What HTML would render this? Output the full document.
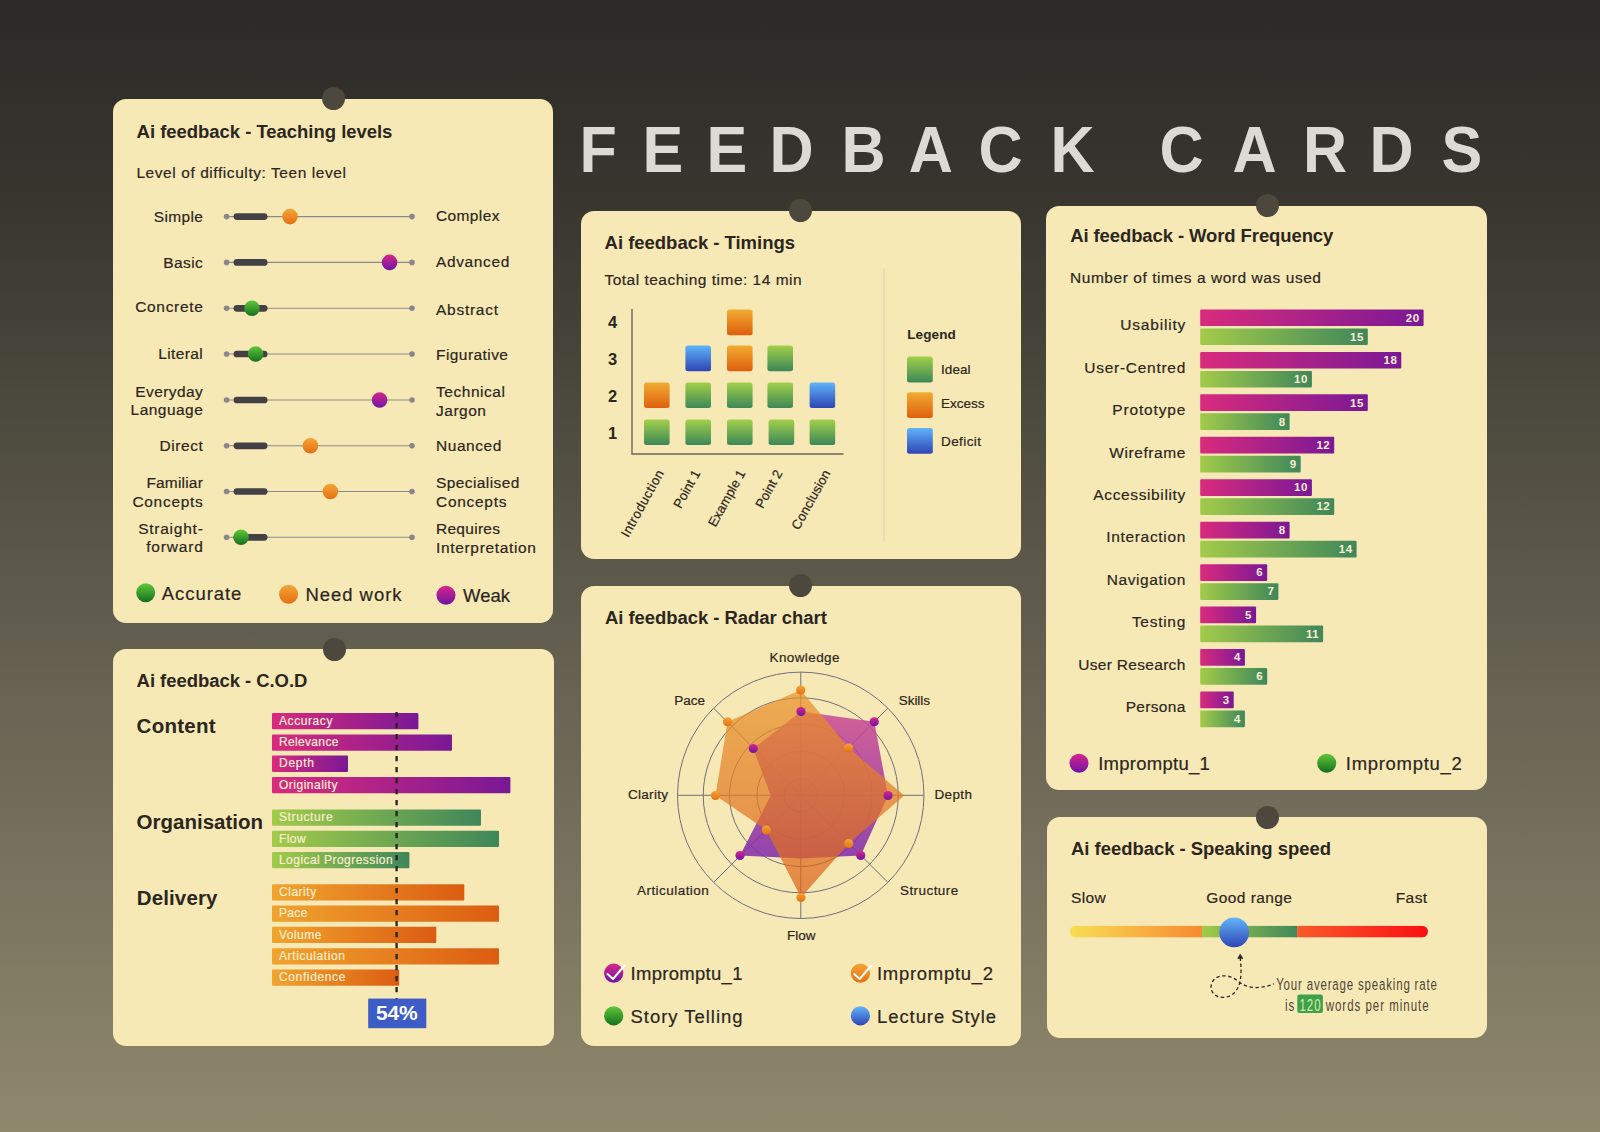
<!DOCTYPE html>
<html lang="en"><head><meta charset="utf-8"><title>Feedback Cards</title>
<style>
html,body{margin:0;padding:0}
body{width:1600px;height:1132px;overflow:hidden;position:relative;font-family:"Liberation Sans", sans-serif;
background:linear-gradient(180deg,#2b2a27 0%,#38362f 18%,#5c584a 50%,#7f7963 84%,#90886d 100%);}
.card{position:absolute;background:#f7e9b6;border-radius:13px;margin:0}
.card svg{position:absolute;left:0;top:0;overflow:visible;font-family:"Liberation Sans", sans-serif;fill:#2b2620}
.card svg text{stroke:#2b2620;stroke-width:.2px}.card svg text[font-weight]{stroke-width:0}
.pin{position:absolute;width:23px;height:23px;border-radius:50%;background:#4d483d}
h1{position:absolute;margin:0;left:0;top:0;width:1600px;height:200px;font-size:65px;font-family:"Liberation Sans", sans-serif}h1 svg{display:block}
</style></head><body>

<svg width="0" height="0" style="position:absolute">
<defs>
<linearGradient id="gG" x1="0" y1="0" x2="0" y2="1"><stop offset="0" stop-color="#5fc83a"/><stop offset="1" stop-color="#15701f"/></linearGradient>
<linearGradient id="gO" x1="0" y1="0" x2="0" y2="1"><stop offset="0" stop-color="#f2a636"/><stop offset="1" stop-color="#e66f12"/></linearGradient>
<linearGradient id="gP" x1="0" y1="0" x2="0" y2="1"><stop offset="0" stop-color="#d8268a"/><stop offset="1" stop-color="#6f14a6"/></linearGradient>
<linearGradient id="gB" x1="0" y1="0" x2="0" y2="1"><stop offset="0" stop-color="#62b6fb"/><stop offset="1" stop-color="#2f44b4"/></linearGradient>
<linearGradient id="sG" x1="0" y1="0" x2="0" y2="1"><stop offset="0" stop-color="#a2d04a"/><stop offset="1" stop-color="#3c8758"/></linearGradient>
<linearGradient id="sO" x1="0" y1="0" x2="0" y2="1"><stop offset="0" stop-color="#f0ac32"/><stop offset="1" stop-color="#df5f0e"/></linearGradient>
<linearGradient id="sB" x1="0" y1="0" x2="0" y2="1"><stop offset="0" stop-color="#5fb4fb"/><stop offset="1" stop-color="#2f44b4"/></linearGradient>
<linearGradient id="hP"><stop offset="0" stop-color="#d92b7d"/><stop offset="1" stop-color="#7a1896"/></linearGradient>
<linearGradient id="hG"><stop offset="0" stop-color="#a3cb4a"/><stop offset="1" stop-color="#3f875b"/></linearGradient>
<linearGradient id="hO"><stop offset="0" stop-color="#f0a42e"/><stop offset="1" stop-color="#dc5c12"/></linearGradient>
<linearGradient id="hY"><stop offset="0" stop-color="#f8de54"/><stop offset="1" stop-color="#f88a30"/></linearGradient>
<linearGradient id="hR"><stop offset="0" stop-color="#f95a2a"/><stop offset="1" stop-color="#f90f12"/></linearGradient>
</defs></svg>
<h1><svg width="1600" height="200" viewBox="0 0 1600 200"><text transform="scale(0.94 1)" x="616.5 683.5 751.6 818.6 895.2 966.7 1041.0 1117.6 1191.5 1233.5 1311.2 1386.2 1456.9 1533.4" y="172" font-size="65" font-weight="700" fill="#dbdad5">FEEDBACK CARDS</text></svg></h1>
<section class="card" style="left:113px;top:99px;width:440px;height:523.6px"><i class="pin" style="left:208.5px;top:-12.0px"></i><svg width="440" height="523.6" viewBox="113 99 440 523.6"><text x="136.6" y="137.6" font-size="18.5" font-weight="700" textLength="255.8" lengthAdjust="spacing">Ai feedback - Teaching levels</text><text x="136.4" y="177.6" font-size="15.5" textLength="209.6" lengthAdjust="spacing">Level of difficulty: Teen level</text><line x1="226.6" y1="216.6" x2="412" y2="216.6" stroke="#8b8a8a" stroke-width="1.1"/><circle cx="226.6" cy="216.6" r="2.8" fill="#8b868b"/><circle cx="412" cy="216.6" r="2.8" fill="#8b868b"/><line x1="236.9" y1="216.6" x2="264.2" y2="216.6" stroke="#434146" stroke-width="6.7" stroke-linecap="round"/><circle cx="290" cy="216.6" r="7.8" fill="url(#gO)"/><text x="202.8" y="222.2" font-size="15.5" text-anchor="end" textLength="49.0" lengthAdjust="spacing">Simple</text><text x="436.0" y="221.0" font-size="15.5" textLength="63.4" lengthAdjust="spacing">Complex</text><line x1="226.6" y1="262.4" x2="412" y2="262.4" stroke="#8b8a8a" stroke-width="1.1"/><circle cx="226.6" cy="262.4" r="2.8" fill="#8b868b"/><circle cx="412" cy="262.4" r="2.8" fill="#8b868b"/><line x1="236.9" y1="262.4" x2="264.2" y2="262.4" stroke="#434146" stroke-width="6.7" stroke-linecap="round"/><circle cx="389.6" cy="262.4" r="7.8" fill="url(#gP)"/><text x="202.8" y="268.0" font-size="15.5" text-anchor="end" textLength="39.6" lengthAdjust="spacing">Basic</text><text x="436.0" y="267.0" font-size="15.5" textLength="73.4" lengthAdjust="spacing">Advanced</text><line x1="226.6" y1="308.3" x2="412" y2="308.3" stroke="#8b8a8a" stroke-width="1.1"/><circle cx="226.6" cy="308.3" r="2.8" fill="#8b868b"/><circle cx="412" cy="308.3" r="2.8" fill="#8b868b"/><line x1="236.9" y1="308.3" x2="264.2" y2="308.3" stroke="#434146" stroke-width="6.7" stroke-linecap="round"/><circle cx="252" cy="308.3" r="7.8" fill="url(#gG)"/><text x="202.8" y="311.6" font-size="15.5" text-anchor="end" textLength="67.6" lengthAdjust="spacing">Concrete</text><text x="436.0" y="315.0" font-size="15.5" textLength="62.0" lengthAdjust="spacing">Abstract</text><line x1="226.6" y1="354.0" x2="412" y2="354.0" stroke="#8b8a8a" stroke-width="1.1"/><circle cx="226.6" cy="354.0" r="2.8" fill="#8b868b"/><circle cx="412" cy="354.0" r="2.8" fill="#8b868b"/><line x1="236.9" y1="354.0" x2="264.2" y2="354.0" stroke="#434146" stroke-width="6.7" stroke-linecap="round"/><circle cx="255.6" cy="354.0" r="7.8" fill="url(#gG)"/><text x="202.8" y="359.4" font-size="15.5" text-anchor="end" textLength="44.6" lengthAdjust="spacing">Literal</text><text x="436.0" y="360.0" font-size="15.5" textLength="72.0" lengthAdjust="spacing">Figurative</text><line x1="226.6" y1="400.0" x2="412" y2="400.0" stroke="#8b8a8a" stroke-width="1.1"/><circle cx="226.6" cy="400.0" r="2.8" fill="#8b868b"/><circle cx="412" cy="400.0" r="2.8" fill="#8b868b"/><line x1="236.9" y1="400.0" x2="264.2" y2="400.0" stroke="#434146" stroke-width="6.7" stroke-linecap="round"/><circle cx="379.6" cy="400.0" r="7.8" fill="url(#gP)"/><text x="202.8" y="396.6" font-size="15.5" text-anchor="end" textLength="67.6" lengthAdjust="spacing">Everyday</text><text x="202.8" y="415.2" font-size="15.5" text-anchor="end" textLength="72.2" lengthAdjust="spacing">Language</text><text x="436.0" y="397.0" font-size="15.5" textLength="69.0" lengthAdjust="spacing">Technical</text><text x="436.0" y="415.8" font-size="15.5" textLength="50.0" lengthAdjust="spacing">Jargon</text><line x1="226.6" y1="445.8" x2="412" y2="445.8" stroke="#8b8a8a" stroke-width="1.1"/><circle cx="226.6" cy="445.8" r="2.8" fill="#8b868b"/><circle cx="412" cy="445.8" r="2.8" fill="#8b868b"/><line x1="236.9" y1="445.8" x2="264.2" y2="445.8" stroke="#434146" stroke-width="6.7" stroke-linecap="round"/><circle cx="310.4" cy="445.8" r="7.8" fill="url(#gO)"/><text x="202.8" y="451.2" font-size="15.5" text-anchor="end" textLength="43.4" lengthAdjust="spacing">Direct</text><text x="436.0" y="451.4" font-size="15.5" textLength="65.4" lengthAdjust="spacing">Nuanced</text><line x1="226.6" y1="491.5" x2="412" y2="491.5" stroke="#8b8a8a" stroke-width="1.1"/><circle cx="226.6" cy="491.5" r="2.8" fill="#8b868b"/><circle cx="412" cy="491.5" r="2.8" fill="#8b868b"/><line x1="236.9" y1="491.5" x2="264.2" y2="491.5" stroke="#434146" stroke-width="6.7" stroke-linecap="round"/><circle cx="330.4" cy="491.5" r="7.8" fill="url(#gO)"/><text x="202.8" y="488.2" font-size="15.5" text-anchor="end" textLength="56.4" lengthAdjust="spacing">Familiar</text><text x="202.8" y="506.8" font-size="15.5" text-anchor="end" textLength="70.4" lengthAdjust="spacing">Concepts</text><text x="436.0" y="488.4" font-size="15.5" textLength="83.4" lengthAdjust="spacing">Specialised</text><text x="436.0" y="507.2" font-size="15.5" textLength="70.4" lengthAdjust="spacing">Concepts</text><line x1="226.6" y1="537.3" x2="412" y2="537.3" stroke="#8b8a8a" stroke-width="1.1"/><circle cx="226.6" cy="537.3" r="2.8" fill="#8b868b"/><circle cx="412" cy="537.3" r="2.8" fill="#8b868b"/><line x1="236.9" y1="537.3" x2="264.2" y2="537.3" stroke="#434146" stroke-width="6.7" stroke-linecap="round"/><circle cx="241" cy="537.3" r="7.8" fill="url(#gG)"/><text x="202.8" y="533.8" font-size="15.5" text-anchor="end" textLength="64.6" lengthAdjust="spacing">Straight-</text><text x="202.8" y="552.4" font-size="15.5" text-anchor="end" textLength="56.6" lengthAdjust="spacing">forward</text><text x="436.0" y="534.0" font-size="15.5" textLength="64.0" lengthAdjust="spacing">Requires</text><text x="436.0" y="552.8" font-size="15.5" textLength="100.0" lengthAdjust="spacing">Interpretation</text><circle cx="145.7" cy="592.8" r="9.5" fill="url(#gG)"/><text x="161.8" y="599.8" font-size="18.5" textLength="79.5" lengthAdjust="spacing">Accurate</text><circle cx="288.6" cy="594.2" r="9.5" fill="url(#gO)"/><text x="305.4" y="600.8" font-size="18.5" textLength="96.2" lengthAdjust="spacing">Need work</text><circle cx="446" cy="595.2" r="9.5" fill="url(#gP)"/><text x="463.0" y="602.0" font-size="18.5" textLength="47.0" lengthAdjust="spacing">Weak</text></svg></section>
<section class="card" style="left:113px;top:649px;width:441px;height:396.6px"><i class="pin" style="left:209.5px;top:-11.5px"></i><svg width="441" height="396.6" viewBox="113 649 441 396.6"><text x="136.6" y="687.0" font-size="18.5" font-weight="700" textLength="170.8" lengthAdjust="spacing">Ai feedback - C.O.D</text><text x="136.6" y="733.0" font-size="20.5" font-weight="700" textLength="79.0" lengthAdjust="spacing">Content</text><text x="136.6" y="829.0" font-size="20.5" font-weight="700" textLength="126.4" lengthAdjust="spacing">Organisation</text><text x="136.7" y="904.6" font-size="20.5" font-weight="700" textLength="80.8" lengthAdjust="spacing">Delivery</text><rect x="272" y="713" width="146.4" height="16.3" rx="1" fill="url(#hP)"/><text x="279.0" y="724.9" font-size="12" fill="#fbeed0" style="stroke:#fbeed0" textLength="53.4" lengthAdjust="spacing">Accuracy</text><rect x="272" y="734.4" width="180.0" height="16.3" rx="1" fill="url(#hP)"/><text x="279.0" y="746.3" font-size="12" fill="#fbeed0" style="stroke:#fbeed0" textLength="59.4" lengthAdjust="spacing">Relevance</text><rect x="272" y="755.6" width="76.0" height="16.3" rx="1" fill="url(#hP)"/><text x="279.0" y="767.5" font-size="12" fill="#fbeed0" style="stroke:#fbeed0" textLength="35.0" lengthAdjust="spacing">Depth</text><rect x="272" y="776.9" width="238.4" height="16.3" rx="1" fill="url(#hP)"/><text x="279.0" y="788.8" font-size="12" fill="#fbeed0" style="stroke:#fbeed0" textLength="58.4" lengthAdjust="spacing">Originality</text><rect x="272" y="809.5" width="209.0" height="16.3" rx="1" fill="url(#hG)"/><text x="279.0" y="821.4" font-size="12" fill="#fbeed0" style="stroke:#fbeed0" textLength="53.6" lengthAdjust="spacing">Structure</text><rect x="272" y="830.7" width="227.0" height="16.3" rx="1" fill="url(#hG)"/><text x="279.0" y="842.6" font-size="12" fill="#fbeed0" style="stroke:#fbeed0" textLength="26.6" lengthAdjust="spacing">Flow</text><rect x="272" y="852" width="137.4" height="16.3" rx="1" fill="url(#hG)"/><text x="279.0" y="863.9" font-size="12" fill="#fbeed0" style="stroke:#fbeed0" textLength="113.6" lengthAdjust="spacing">Logical Progression</text><rect x="272" y="884.3" width="192.3" height="16.3" rx="1" fill="url(#hO)"/><text x="279.0" y="896.2" font-size="12" fill="#fbeed0" style="stroke:#fbeed0" textLength="37.2" lengthAdjust="spacing">Clarity</text><rect x="272" y="905.5" width="227.0" height="16.3" rx="1" fill="url(#hO)"/><text x="279.0" y="917.4" font-size="12" fill="#fbeed0" style="stroke:#fbeed0" textLength="28.4" lengthAdjust="spacing">Pace</text><rect x="272" y="926.8" width="164.3" height="16.3" rx="1" fill="url(#hO)"/><text x="279.0" y="938.7" font-size="12" fill="#fbeed0" style="stroke:#fbeed0" textLength="42.4" lengthAdjust="spacing">Volume</text><rect x="272" y="948.2" width="227.0" height="16.3" rx="1" fill="url(#hO)"/><text x="279.0" y="960.1" font-size="12" fill="#fbeed0" style="stroke:#fbeed0" textLength="66.0" lengthAdjust="spacing">Articulation</text><rect x="272" y="969.4" width="127.2" height="16.3" rx="1" fill="url(#hO)"/><text x="279.0" y="981.3" font-size="12" fill="#fbeed0" style="stroke:#fbeed0" textLength="66.4" lengthAdjust="spacing">Confidence</text><line x1="396.6" y1="712" x2="396.6" y2="999" stroke="#26221e" stroke-width="2.3" stroke-dasharray="5.2 5.8"/><rect x="368.2" y="998.6" width="58.1" height="29.6" fill="#3d5cc5"/><text x="376.0" y="1019.9" font-size="21" font-weight="700" fill="#fff" textLength="41.6" lengthAdjust="spacing">54%</text></svg></section>
<section class="card" style="left:581px;top:211px;width:440px;height:348px"><i class="pin" style="left:208.1px;top:-12.0px"></i><svg width="440" height="348" viewBox="581 211 440 348"><text x="604.6" y="249.0" font-size="18.5" font-weight="700" textLength="190.4" lengthAdjust="spacing">Ai feedback - Timings</text><text x="604.4" y="285.0" font-size="15.5" textLength="197.2" lengthAdjust="spacing">Total teaching time: 14 min</text><path d="M632 309V454H843.6" fill="none" stroke="#6a665e" stroke-width="1.4"/><text x="612.6" y="328.4" font-size="16.5" font-weight="700" text-anchor="middle">4</text><text x="612.6" y="365.0" font-size="16.5" font-weight="700" text-anchor="middle">3</text><text x="612.6" y="402.0" font-size="16.5" font-weight="700" text-anchor="middle">2</text><text x="612.6" y="439.4" font-size="16.5" font-weight="700" text-anchor="middle">1</text><rect x="644" y="419.4" width="25.6" height="25.6" rx="2.5" fill="url(#sG)"/><rect x="685.4" y="419.4" width="25.6" height="25.6" rx="2.5" fill="url(#sG)"/><rect x="727" y="419.4" width="25.6" height="25.6" rx="2.5" fill="url(#sG)"/><rect x="768.6" y="419.4" width="25.6" height="25.6" rx="2.5" fill="url(#sG)"/><rect x="809.6" y="419.4" width="25.6" height="25.6" rx="2.5" fill="url(#sG)"/><rect x="644" y="382.5" width="25.6" height="25.6" rx="2.5" fill="url(#sO)"/><rect x="685.4" y="382.5" width="25.6" height="25.6" rx="2.5" fill="url(#sG)"/><rect x="727" y="382.5" width="25.6" height="25.6" rx="2.5" fill="url(#sG)"/><rect x="767.4" y="382.5" width="25.6" height="25.6" rx="2.5" fill="url(#sG)"/><rect x="809.6" y="382.5" width="25.6" height="25.6" rx="2.5" fill="url(#sB)"/><rect x="685.4" y="345.6" width="25.6" height="25.6" rx="2.5" fill="url(#sB)"/><rect x="727" y="345.6" width="25.6" height="25.6" rx="2.5" fill="url(#sO)"/><rect x="767.4" y="345.6" width="25.6" height="25.6" rx="2.5" fill="url(#sG)"/><rect x="727" y="309.6" width="25.6" height="25.6" rx="2.5" fill="url(#sO)"/><text transform="translate(664.3 473) rotate(-61)" font-size="13.2" text-anchor="end" textLength="74.5" lengthAdjust="spacing">Introduction</text><text transform="translate(700.8 473) rotate(-61)" font-size="13.2" text-anchor="end" textLength="41.5" lengthAdjust="spacing">Point 1</text><text transform="translate(745.8 473) rotate(-61)" font-size="13.2" text-anchor="end" textLength="62.5" lengthAdjust="spacing">Example 1</text><text transform="translate(782.8 473) rotate(-61)" font-size="13.2" text-anchor="end" textLength="41.5" lengthAdjust="spacing">Point 2</text><text transform="translate(830.8 473) rotate(-61)" font-size="13.2" text-anchor="end" textLength="66" lengthAdjust="spacing">Conclusion</text><line x1="884" y1="268.4" x2="884" y2="541.2" stroke="#dcd5b1" stroke-width="1.2"/><text x="907.3" y="339.0" font-size="13.5" font-weight="700" textLength="48.4" lengthAdjust="spacing">Legend</text><rect x="907" y="356.6" width="25.8" height="25.8" rx="2.5" fill="url(#sG)"/><text x="941.0" y="373.8" font-size="13.5" textLength="29.6" lengthAdjust="spacing">Ideal</text><rect x="907" y="392.3" width="25.8" height="25.8" rx="2.5" fill="url(#sO)"/><text x="941.0" y="408.3" font-size="13.5" textLength="43.5" lengthAdjust="spacing">Excess</text><rect x="907" y="427.9" width="25.8" height="25.8" rx="2.5" fill="url(#sB)"/><text x="941.0" y="445.6" font-size="13.5" textLength="40.0" lengthAdjust="spacing">Deficit</text></svg></section>
<section class="card" style="left:581px;top:585.5px;width:439.6px;height:460.3px"><i class="pin" style="left:208.2px;top:-11.5px"></i><svg width="439.6" height="460.3" viewBox="581 585.5 439.6 460.3"><text x="605.0" y="623.8" font-size="18.5" font-weight="700" textLength="221.8" lengthAdjust="spacing">Ai feedback - Radar chart</text><circle cx="800.75" cy="794.8" r="16.5" fill="none" stroke="#6f6e7c" stroke-width="1"/><circle cx="800.75" cy="794.8" r="43.8" fill="none" stroke="#6f6e7c" stroke-width="1"/><circle cx="800.75" cy="794.8" r="71.2" fill="none" stroke="#6f6e7c" stroke-width="1"/><circle cx="800.75" cy="794.8" r="97.5" fill="none" stroke="#6f6e7c" stroke-width="1"/><circle cx="800.75" cy="794.8" r="123.2" fill="none" stroke="#6f6e7c" stroke-width="1"/><line x1="800.75" y1="794.8" x2="800.8" y2="671.6" stroke="#6f6e7c" stroke-width="1"/><line x1="800.75" y1="794.8" x2="887.9" y2="707.7" stroke="#6f6e7c" stroke-width="1"/><line x1="800.75" y1="794.8" x2="924.0" y2="794.8" stroke="#6f6e7c" stroke-width="1"/><line x1="800.75" y1="794.8" x2="887.9" y2="881.9" stroke="#6f6e7c" stroke-width="1"/><line x1="800.75" y1="794.8" x2="800.8" y2="918.0" stroke="#6f6e7c" stroke-width="1"/><line x1="800.75" y1="794.8" x2="713.6" y2="881.9" stroke="#6f6e7c" stroke-width="1"/><line x1="800.75" y1="794.8" x2="677.5" y2="794.8" stroke="#6f6e7c" stroke-width="1"/><line x1="800.75" y1="794.8" x2="713.6" y2="707.7" stroke="#6f6e7c" stroke-width="1"/><defs><linearGradient id="rp" x1="0" y1="0" x2="0" y2="1"><stop offset="0" stop-color="#cc4a92"/><stop offset="1" stop-color="#802aaa"/></linearGradient><linearGradient id="ro" x1="0" y1="0" x2="0" y2="1"><stop offset="0" stop-color="#e8942c"/><stop offset="1" stop-color="#dc621c"/></linearGradient></defs><polygon points="801,711 874.25,721.25 888,795 860.75,855 800.75,858 740,855 770.75,795 753.25,748" fill="url(#rp)" fill-opacity="0.86"/><polygon points="800.75,689.5 848.75,747.5 904.25,795 848.75,843 801,897 766.25,829.5 715.5,795 727.5,721.25" fill="url(#ro)" fill-opacity="0.72"/><circle cx="801" cy="711" r="4.6" fill="url(#gP)"/><circle cx="874.25" cy="721.25" r="4.6" fill="url(#gP)"/><circle cx="888" cy="795" r="4.6" fill="url(#gP)"/><circle cx="860.75" cy="855" r="4.6" fill="url(#gP)"/><circle cx="740" cy="855" r="4.6" fill="url(#gP)"/><circle cx="753.25" cy="748" r="4.6" fill="url(#gP)"/><circle cx="800.75" cy="689.5" r="4.6" fill="url(#gO)"/><circle cx="848.75" cy="747.5" r="4.6" fill="url(#gO)"/><circle cx="848.75" cy="843" r="4.6" fill="url(#gO)"/><circle cx="801" cy="897" r="4.6" fill="url(#gO)"/><circle cx="766.25" cy="829.5" r="4.6" fill="url(#gO)"/><circle cx="715.5" cy="795" r="4.6" fill="url(#gO)"/><circle cx="727.5" cy="721.25" r="4.6" fill="url(#gO)"/><text x="769.5" y="662.0" font-size="13.5" textLength="70.0" lengthAdjust="spacing">Knowledge</text><text x="674.2" y="704.5" font-size="13.5" textLength="30.8" lengthAdjust="spacing">Pace</text><text x="898.8" y="705.0" font-size="13.5" textLength="31.2" lengthAdjust="spacing">Skills</text><text x="628.0" y="798.8" font-size="13.5" textLength="40.0" lengthAdjust="spacing">Clarity</text><text x="934.5" y="798.8" font-size="13.5" textLength="37.5" lengthAdjust="spacing">Depth</text><text x="637.0" y="895.0" font-size="13.5" textLength="71.8" lengthAdjust="spacing">Articulation</text><text x="900.0" y="895.0" font-size="13.5" textLength="58.2" lengthAdjust="spacing">Structure</text><text x="787.0" y="940.0" font-size="13.5" textLength="28.5" lengthAdjust="spacing">Flow</text><circle cx="613.7" cy="972.7" r="9.6" fill="url(#gP)"/><path d="M607.5 973.5l5.5 5 11.5 -13.5" fill="none" stroke="#fff" stroke-width="2" stroke-linecap="round" stroke-linejoin="round"/><text x="630.5" y="980.0" font-size="18.5" textLength="112.0" lengthAdjust="spacing">Impromptu_1</text><circle cx="860.4" cy="972.7" r="9.6" fill="url(#gO)"/><path d="M854.2 973.5l5.5 5 11.5 -13.5" fill="none" stroke="#fff" stroke-width="2" stroke-linecap="round" stroke-linejoin="round"/><text x="877.0" y="980.0" font-size="18.5" textLength="116.0" lengthAdjust="spacing">Impromptu_2</text><circle cx="613.7" cy="1015.3" r="9.6" fill="url(#gG)"/><text x="630.5" y="1022.5" font-size="18.5" textLength="112.0" lengthAdjust="spacing">Story Telling</text><circle cx="860.4" cy="1015.3" r="9.6" fill="url(#gB)"/><text x="877.0" y="1022.5" font-size="18.5" textLength="119.0" lengthAdjust="spacing">Lecture Style</text></svg></section>
<section class="card" style="left:1046px;top:206px;width:441px;height:584.2px"><i class="pin" style="left:209.5px;top:-12.5px"></i><svg width="441" height="584.2" viewBox="1046 206 441 584.2"><text x="1070.2" y="241.9" font-size="18.5" font-weight="700" textLength="263.1" lengthAdjust="spacing">Ai feedback - Word Frequency</text><text x="1070.0" y="282.7" font-size="15.5" textLength="251.0" lengthAdjust="spacing">Number of times a word was used</text><rect x="1200.2" y="309.4" width="223.4" height="16.7" rx="1" fill="url(#hP)"/><rect x="1200.2" y="328.4" width="167.6" height="16.7" rx="1" fill="url(#hG)"/><text x="1419.6" y="321.7" font-size="11.5" font-weight="700" text-anchor="end" fill="#fbeed0" letter-spacing=".5">20</text><text x="1363.8" y="340.7" font-size="11.5" font-weight="700" text-anchor="end" fill="#fbeed0" letter-spacing=".5">15</text><text x="1185.3" y="330.2" font-size="15.5" text-anchor="end" textLength="65.0" lengthAdjust="spacing">Usability</text><rect x="1200.2" y="351.9" width="201.1" height="16.7" rx="1" fill="url(#hP)"/><rect x="1200.2" y="370.9" width="111.7" height="16.7" rx="1" fill="url(#hG)"/><text x="1397.3" y="364.2" font-size="11.5" font-weight="700" text-anchor="end" fill="#fbeed0" letter-spacing=".5">18</text><text x="1307.9" y="383.2" font-size="11.5" font-weight="700" text-anchor="end" fill="#fbeed0" letter-spacing=".5">10</text><text x="1185.3" y="372.7" font-size="15.5" text-anchor="end" textLength="101.0" lengthAdjust="spacing">User-Centred</text><rect x="1200.2" y="394.3" width="167.6" height="16.7" rx="1" fill="url(#hP)"/><rect x="1200.2" y="413.3" width="89.4" height="16.7" rx="1" fill="url(#hG)"/><text x="1363.8" y="406.6" font-size="11.5" font-weight="700" text-anchor="end" fill="#fbeed0" letter-spacing=".5">15</text><text x="1285.6" y="425.6" font-size="11.5" font-weight="700" text-anchor="end" fill="#fbeed0" letter-spacing=".5">8</text><text x="1185.3" y="415.1" font-size="15.5" text-anchor="end" textLength="73.0" lengthAdjust="spacing">Prototype</text><rect x="1200.2" y="436.8" width="134.0" height="16.7" rx="1" fill="url(#hP)"/><rect x="1200.2" y="455.8" width="100.5" height="16.7" rx="1" fill="url(#hG)"/><text x="1330.2" y="449.1" font-size="11.5" font-weight="700" text-anchor="end" fill="#fbeed0" letter-spacing=".5">12</text><text x="1296.7" y="468.1" font-size="11.5" font-weight="700" text-anchor="end" fill="#fbeed0" letter-spacing=".5">9</text><text x="1185.3" y="457.6" font-size="15.5" text-anchor="end" textLength="76.0" lengthAdjust="spacing">Wireframe</text><rect x="1200.2" y="479.2" width="111.7" height="16.7" rx="1" fill="url(#hP)"/><rect x="1200.2" y="498.2" width="134.0" height="16.7" rx="1" fill="url(#hG)"/><text x="1307.9" y="491.5" font-size="11.5" font-weight="700" text-anchor="end" fill="#fbeed0" letter-spacing=".5">10</text><text x="1330.2" y="510.5" font-size="11.5" font-weight="700" text-anchor="end" fill="#fbeed0" letter-spacing=".5">12</text><text x="1185.3" y="500.0" font-size="15.5" text-anchor="end" textLength="92.0" lengthAdjust="spacing">Accessibility</text><rect x="1200.2" y="521.7" width="89.4" height="16.7" rx="1" fill="url(#hP)"/><rect x="1200.2" y="540.7" width="156.4" height="16.7" rx="1" fill="url(#hG)"/><text x="1285.6" y="534.0" font-size="11.5" font-weight="700" text-anchor="end" fill="#fbeed0" letter-spacing=".5">8</text><text x="1352.6" y="553.0" font-size="11.5" font-weight="700" text-anchor="end" fill="#fbeed0" letter-spacing=".5">14</text><text x="1185.3" y="542.5" font-size="15.5" text-anchor="end" textLength="79.0" lengthAdjust="spacing">Interaction</text><rect x="1200.2" y="564.2" width="67.0" height="16.7" rx="1" fill="url(#hP)"/><rect x="1200.2" y="583.2" width="78.2" height="16.7" rx="1" fill="url(#hG)"/><text x="1263.2" y="576.5" font-size="11.5" font-weight="700" text-anchor="end" fill="#fbeed0" letter-spacing=".5">6</text><text x="1274.4" y="595.5" font-size="11.5" font-weight="700" text-anchor="end" fill="#fbeed0" letter-spacing=".5">7</text><text x="1185.3" y="585.0" font-size="15.5" text-anchor="end" textLength="78.6" lengthAdjust="spacing">Navigation</text><rect x="1200.2" y="606.6" width="55.9" height="16.7" rx="1" fill="url(#hP)"/><rect x="1200.2" y="625.6" width="122.9" height="16.7" rx="1" fill="url(#hG)"/><text x="1252.0" y="618.9" font-size="11.5" font-weight="700" text-anchor="end" fill="#fbeed0" letter-spacing=".5">5</text><text x="1319.1" y="637.9" font-size="11.5" font-weight="700" text-anchor="end" fill="#fbeed0" letter-spacing=".5">11</text><text x="1185.3" y="627.4" font-size="15.5" text-anchor="end" textLength="53.4" lengthAdjust="spacing">Testing</text><rect x="1200.2" y="649.1" width="44.7" height="16.7" rx="1" fill="url(#hP)"/><rect x="1200.2" y="668.1" width="67.0" height="16.7" rx="1" fill="url(#hG)"/><text x="1240.9" y="661.4" font-size="11.5" font-weight="700" text-anchor="end" fill="#fbeed0" letter-spacing=".5">4</text><text x="1263.2" y="680.4" font-size="11.5" font-weight="700" text-anchor="end" fill="#fbeed0" letter-spacing=".5">6</text><text x="1185.3" y="669.9" font-size="15.5" text-anchor="end" textLength="107.0" lengthAdjust="spacing">User Research</text><rect x="1200.2" y="691.5" width="33.5" height="16.7" rx="1" fill="url(#hP)"/><rect x="1200.2" y="710.5" width="44.7" height="16.7" rx="1" fill="url(#hG)"/><text x="1229.7" y="703.8" font-size="11.5" font-weight="700" text-anchor="end" fill="#fbeed0" letter-spacing=".5">3</text><text x="1240.9" y="722.8" font-size="11.5" font-weight="700" text-anchor="end" fill="#fbeed0" letter-spacing=".5">4</text><text x="1185.3" y="712.3" font-size="15.5" text-anchor="end" textLength="59.6" lengthAdjust="spacing">Persona</text><circle cx="1079" cy="763.2" r="9.5" fill="url(#gP)"/><text x="1098.2" y="769.7" font-size="18.5" textLength="111.6" lengthAdjust="spacing">Impromptu_1</text><circle cx="1326.7" cy="763.2" r="9.5" fill="url(#gG)"/><text x="1345.8" y="769.7" font-size="18.5" textLength="116.0" lengthAdjust="spacing">Impromptu_2</text></svg></section>
<section class="card" style="left:1047px;top:817.4px;width:440.4px;height:220.2px"><i class="pin" style="left:208.9px;top:-11.9px"></i><svg width="440.4" height="220.2" viewBox="1047 817.4 440.4 220.2"><text x="1071.0" y="855.2" font-size="18.5" font-weight="700" textLength="260.0" lengthAdjust="spacing">Ai feedback - Speaking speed</text><text x="1071.0" y="903.0" font-size="15.5" textLength="34.8" lengthAdjust="spacing">Slow</text><text x="1206.3" y="903.0" font-size="15.5" textLength="85.7" lengthAdjust="spacing">Good range</text><text x="1395.7" y="903.0" font-size="15.5" textLength="31.5" lengthAdjust="spacing">Fast</text><clipPath id="bc"><rect x="1069.7" y="926.2" width="358.3" height="11.6" rx="5.8"/></clipPath><g clip-path="url(#bc)"><rect x="1069.7" y="926" width="132.4" height="12" fill="url(#hY)"/><rect x="1201.9" y="926" width="95.6" height="12" fill="url(#hG)"/><rect x="1297.3" y="926" width="131" height="12" fill="url(#hR)"/></g><circle cx="1234.2" cy="932.8" r="14.9" fill="url(#gB)"/><path d="M1240.3 958 C1241 966 1241.6 975 1240 982 C1238 992 1231 998 1222.5 997.8 C1214 997.5 1210 991 1211.2 985.5 C1212.5 979 1219 975.5 1226 976.3 C1233 977 1237 981 1241 983.8 C1250 989.5 1262 989 1274 984.2" fill="none" stroke="#2b2822" stroke-width="1.3" stroke-dasharray="3.4 2.6"/><path d="M1237.8 958.8L1240.2 954.6L1242.8 958.8Z" fill="#2b2822" stroke="#2b2822" stroke-width="0.8" stroke-linejoin="round"/><g transform="translate(1276.2 990.2) scale(0.66 1)"><text x="0" y="0" font-size="17.4" fill="#4d4739" style="stroke-width:0" textLength="243.5" lengthAdjust="spacing">Your average speaking rate</text></g><rect x="1297.3" y="995" width="25.6" height="18.3" rx="2" fill="#3fa04a"/><g transform="translate(1285 1011) scale(0.66 1)"><text x="0" y="0" font-size="17.4" fill="#4d4739" style="stroke-width:0" textLength="217.6" lengthAdjust="spacing">is <tspan fill="#d9e8b0">120</tspan> words per minute</text></g></svg></section>
</body></html>
